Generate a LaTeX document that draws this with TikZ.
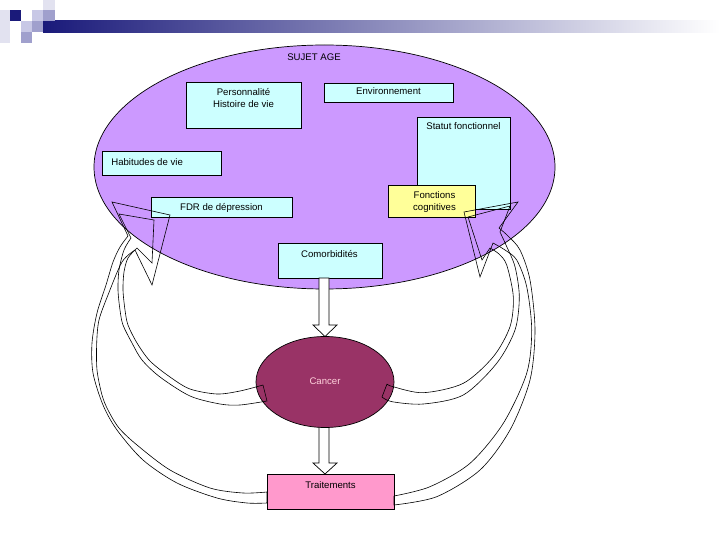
\documentclass[tikz,border=0pt]{standalone}
\usepackage{fontspec}
\setmainfont{Liberation Sans}
\usetikzlibrary{shapes.geometric}
\definecolor{lav}{RGB}{204,153,255}
\definecolor{cyanbox}{RGB}{204,255,255}
\definecolor{yel}{RGB}{255,255,153}
\definecolor{canc}{RGB}{153,51,102}
\definecolor{pinkbox}{RGB}{255,153,204}
\definecolor{navy}{RGB}{26,26,122}
\definecolor{sqA}{RGB}{226,226,240}
\definecolor{sqB}{RGB}{200,200,230}
\definecolor{sqC}{RGB}{160,160,205}
\definecolor{canctext}{RGB}{255,210,220}
\begin{document}
\begin{tikzpicture}[x=1pt,y=-1pt,
  font=\fontsize{9.6}{11.6}\selectfont,
  line width=0.7pt,
  box/.style={draw, rectangle, inner sep=0pt, anchor=north west},
  txt/.style={inner sep=0pt, align=center},
  curvarr/.style={draw, line width=0.6pt, line join=miter},
  blockarr/.style={draw, fill=white, line width=0.7pt}]
\useasboundingbox (0,0) rectangle (720,540);
% header decoration
\shade[left color=navy, right color=white] (43,21) rectangle (720,33);
\fill[sqA] (0,10) rectangle (10,43);
\fill[navy] (10,10) rectangle (21,21);
\fill[sqB] (32,10) rectangle (43,21);
\fill[sqA] (43,0) rectangle (55,10);
\fill[sqC] (43,10) rectangle (55,21);
\fill[sqB] (21,21) rectangle (32,32);
\fill[sqC] (32,21) rectangle (43,32);
\fill[sqC] (21,32) rectangle (32,43);

% big ellipse
\node[draw, ellipse, fill=lav, minimum width=461pt, minimum height=244pt, inner sep=0pt] (sujet) at (324.5,167) {};
\node[txt, anchor=base] (sujetlbl) at (314,60.4) {SUJET AGE};

% boxes inside
\node[box, fill=cyanbox, minimum width=115pt, minimum height=46pt] (perso) at (186,82) {};
\node[txt, anchor=north] (persolbl) at (243.5,88) {Personnalité\\Histoire de vie};
\node[box, fill=cyanbox, minimum width=129pt, minimum height=19pt] (env) at (324,83) {};
\node[txt, anchor=base] (envlbl) at (388.5,95) {Environnement};
\node[box, fill=cyanbox, minimum width=93pt, minimum height=92pt] (statut) at (417,117) {};
\node[txt, anchor=base] (statutlbl) at (463.5,129.5) {Statut fonctionnel};
\node[box, fill=cyanbox, minimum width=119pt, minimum height=24pt] (habit) at (102,151) {};
\node[txt, anchor=base west] (habitlbl) at (111,165.5) {Habitudes de vie};
\node[box, fill=yel, minimum width=87pt, minimum height=32pt] (fonct) at (388,185) {};
\node[txt, anchor=north] (fonctlbl) at (434.5,191.5) {Fonctions\\cognitives};
\node[box, fill=cyanbox, minimum width=141pt, minimum height=20pt] (fdr) at (151,197) {};
\node[txt, anchor=base] (fdrlbl) at (221.5,210.5) {FDR de dépression};
\node[box, fill=cyanbox, minimum width=104pt, minimum height=35pt] (comor) at (278,243) {};
\node[txt, anchor=base] (comorlbl) at (329.5,257) {Comorbidités};

% block arrows
\draw[blockarr] (319,278) -- (329,278) -- (329,325) -- (337,325) -- (325,336.5) -- (313,325) -- (319,325) -- cycle;
\draw[blockarr] (319,420) -- (329,420) -- (329,463) -- (337,463) -- (325,474) -- (313,463) -- (319,463) -- cycle;

% cancer and treatments
\node[draw, ellipse, fill=canc, minimum width=138pt, minimum height=91pt, inner sep=0pt] (cancer) at (325,382) {};
\node[txt, anchor=base, text=canctext] (cancerlbl) at (325,384) {Cancer};
\node[box, fill=pinkbox, minimum width=127pt, minimum height=35pt] (trait) at (267,474) {};
\node[txt, anchor=base] (traitlbl) at (330.5,488) {Traitements};

% curved arrows, left, from Cancer
\draw[curvarr] (263,385) -- (267,401)
  -- plot[smooth] coordinates {(267,401) (240,405) (220,404) (190,396) (160,377) (142,360) (132,343) (123,325) (120,310) (118,290) (119,270) (124,250) (131,238)}
  -- (119,214) -- (154,220) -- (152,263) -- (137,248)
  -- plot[smooth] coordinates {(137,248) (128,258) (124,272) (123,290) (125,310) (128,325) (137,343) (150,361) (170,377) (190,389) (217,394) (240,391) (263,385)};
% curved arrow, left, from Traitements
\draw[curvarr] (267,492) -- (267,503)
  -- plot[smooth] coordinates {(267,503) (247,503) (217,498) (177,483) (143,460) (117,430) (103,405) (93,373) (92,343) (97,313) (106,285) (113,262) (120,247) (128,236)}
  -- (112,202) -- (170,215) -- (152,285) -- (135,250)
  -- plot[smooth] coordinates {(135,250) (122,262) (108,295) (99,320) (96.7,343) (97,370) (102,395) (108,410) (119,428) (137,445) (170,470) (210,488) (243,493) (267,492)};
% curved arrow, right, from Cancer
\draw[curvarr] (387,384) -- (382,397)
  -- plot[smooth] coordinates {(382,397) (392,401.7) (423.3,404) (463.3,395) (496.7,363.3) (515,330) (519.3,296.7) (515,266.7) (506,245) (500,232)}
  -- (510,206) -- (468,217) -- (482,260) -- (490,248)
  -- plot[smooth] coordinates {(490,248) (499,254) (506.7,265) (513.3,296.7) (510,326.7) (493.3,356.7) (463.3,383.3) (423.3,392.7) (393,386.7) (387,384)};
% curved arrow, right, from Traitements
\draw[curvarr] (394,496) -- (394,505)
  -- plot[smooth] coordinates {(394,505) (436.7,496.7) (480,470) (510,430) (530,380) (535,330) (530,280) (520,250) (508,236) (499,228)}
  -- (518,202) -- (464,212) -- (480,277) -- (493,243)
  -- plot[smooth] coordinates {(493,243) (505,250) (516.7,260) (526.7,286.7) (531.7,330) (526.7,373.3) (503.3,423.3) (470,463.3) (430,486.7) (394,496)};
\end{tikzpicture}
\end{document}
